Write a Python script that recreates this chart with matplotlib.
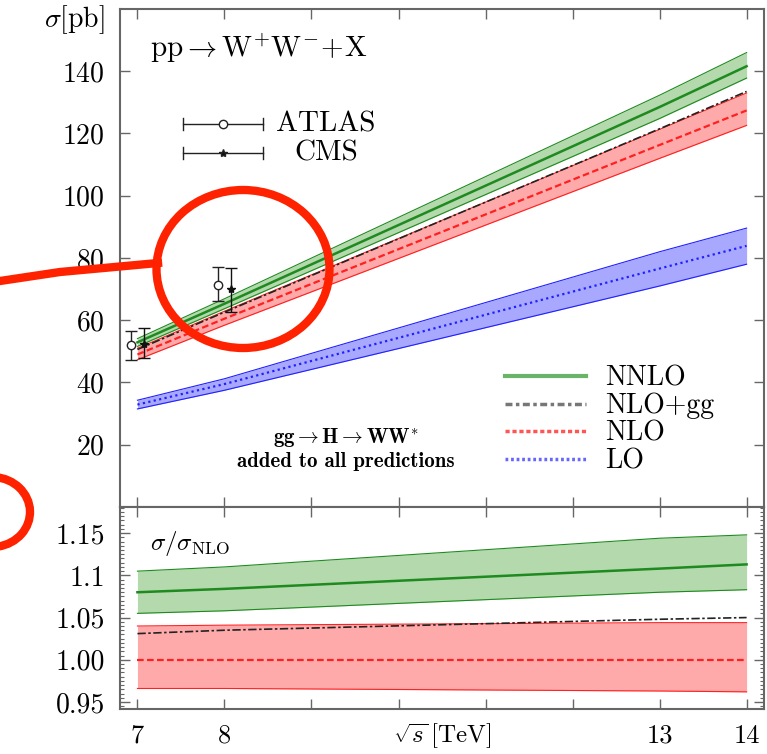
import numpy as np
import matplotlib
matplotlib.use("Agg")
import matplotlib.pyplot as plt
from matplotlib.patches import Ellipse, Arc
from matplotlib.lines import Line2D
from matplotlib.ticker import FixedLocator, FixedFormatter, MultipleLocator

plt.rcParams['font.family'] = 'serif'
plt.rcParams['font.serif'] = ['cmr10', 'DejaVu Serif']
plt.rcParams['mathtext.fontset'] = 'cm'
plt.rcParams['axes.formatter.use_mathtext'] = True

# energies (TeV)
sqrt_s = [7, 8, 13, 14]

# cross sections in pb (gg->H->WW* added)
nnlo = [52.9, 65.3, 128.5, 141.6]
nnlo_lo = [51.6, 63.7, 124.8, 137.8]
nnlo_hi = [54.1, 66.9, 132.3, 146.0]
nlo_gg = [50.6, 62.6, 121.5, 133.5]
nlo = [49.0, 60.5, 116.3, 127.4]
nlo_lo = [47.3, 58.4, 112.0, 122.6]
nlo_hi = [51.0, 62.9, 121.3, 133.0]
lo = [32.9, 39.5, 76.6, 83.9]
lo_lo = [31.5, 37.5, 71.0, 78.0]
lo_hi = [34.3, 41.2, 82.0, 89.6]

# ratios to NLO
r_nnlo = [1.080, 1.084, 1.108, 1.113]
r_nnlo_lo = [1.055, 1.058, 1.080, 1.083]
r_nnlo_hi = [1.105, 1.110, 1.144, 1.148]
r_nlo_gg = [1.031, 1.035, 1.048, 1.050]
r_nlo = [1.0, 1.0, 1.0, 1.0]
r_nlo_lo = [0.966, 0.966, 0.963, 0.962]
r_nlo_hi = [1.040, 1.041, 1.044, 1.044]

# measurements
atlas_x = [6.93, 7.93]
atlas_y = [51.9, 71.4]
atlas_err = [[4.8, 5.1], [4.8, 5.7]]
cms_x = [7.07, 8.08]
cms_y = [52.4, 69.9]
cms_err = [[4.6, 7.3], [5.0, 6.9]]

green, green_f = '#1f8a1f', '#b3d9ad'
red, red_f = '#ff2020', '#ffaaaa'
blue, blue_f = '#2020ff', '#a8a8ff'
frame = '#666666'
fs = 20

fig = plt.figure(figsize=(7.67, 7.54), dpi=100)
ax = fig.add_axes([0.1565, 0.3276, 0.8396, 0.6605])
ax2 = fig.add_axes([0.1565, 0.0597, 0.8396, 0.2679])

# ---- main panel
def band(a, x, lo_, hi_, c, fc):
    a.fill_between(x, lo_, hi_, color=fc, lw=0)
    a.plot(x, lo_, color=c, lw=0.8)
    a.plot(x, hi_, color=c, lw=0.8)

band(ax, sqrt_s, lo_lo, lo_hi, blue, blue_f)
ax.plot(sqrt_s, lo, color=blue, lw=1.6, ls=(0, (1, 1.5)))
band(ax, sqrt_s, nlo_lo, nlo_hi, red, red_f)
ax.plot(sqrt_s, nlo, color=red, lw=1.6, ls=(0, (3, 1.5)))
ax.plot(sqrt_s, nlo_gg, color='#222222', lw=1.2, ls=(0, (5, 1.5, 1.5, 1.5)))
band(ax, sqrt_s, nnlo_lo, nnlo_hi, green, green_f)
ax.plot(sqrt_s, nnlo, color=green, lw=1.8)

ax.errorbar(atlas_x, atlas_y, yerr=atlas_err, fmt='o', ms=6, mfc='white',
            mec='#222222', ecolor='#222222', elinewidth=1, capsize=4, zorder=5)
ax.errorbar(cms_x, cms_y, yerr=cms_err, fmt='*', ms=6, color='#111111',
            elinewidth=1, capsize=4, zorder=5)

# experiment key (horizontal bars)
for yk, mk, lab in [(0.769, 'o', 'ATLAS'), (0.711, '*', 'CMS')]:
    ax.plot([0.098, 0.222], [yk, yk], color='#222222', lw=1, transform=ax.transAxes)
    for xe in (0.098, 0.222):
        ax.plot([xe, xe], [yk - 0.012, yk + 0.012], color='#222222', lw=1,
                transform=ax.transAxes)
    ax.plot([0.16], [yk], marker=mk, ms=6, mfc='white' if mk == 'o' else '#111111',
            mec='#222222', transform=ax.transAxes)
    ax.text(0.32, yk, lab, ha='center', va='center', fontsize=21,
            transform=ax.transAxes)

ax.text(0.047, 0.922, r'$\mathrm{pp}\rightarrow\mathrm{W}^{+}\mathrm{W}^{-}\!+\!\mathrm{X}$',
        fontsize=21, ha='left', va='center', transform=ax.transAxes)
ax.text(0.35, 0.14, r'$\mathbf{gg}\rightarrow\mathbf{H}\rightarrow\mathbf{WW}^{*}$',
        fontsize=15, ha='center', va='center', transform=ax.transAxes)
ax.text(0.35, 0.092, 'added to all predictions', fontsize=15, family='cmb10',
        ha='center', va='center', transform=ax.transAxes)
ax.text(-0.023, 0.978, r'$\sigma[\mathrm{pb}]$', fontsize=fs, ha='right',
        va='center', transform=ax.transAxes)

handles = [Line2D([], [], color='#6ab46a', lw=3),
           Line2D([], [], color='#777777', lw=2.5, ls=(0, (2, 1, 1, 1))),
           Line2D([], [], color='#ff5555', lw=2.5, ls=(0, (1.2, 0.8))),
           Line2D([], [], color='#6666ff', lw=2.5, ls=(0, (0.8, 0.8)))]
ax.legend(handles, ['NNLO', 'NLO+gg', 'NLO', 'LO'], loc='upper left',
          bbox_to_anchor=(0.598, 0.285), frameon=False, fontsize=fs,
          handlelength=2.9, handletextpad=0.7, labelspacing=0.05,
          borderpad=0, borderaxespad=0)

ax.set_xlim(6.8, 14.2)
ax.set_ylim(0, 160)
ax.xaxis.set_major_locator(FixedLocator(range(7, 15)))
ax.set_xticklabels([])
ax.yaxis.set_major_locator(FixedLocator(range(20, 160, 20)))

# ---- ratio panel
band(ax2, sqrt_s, r_nlo_lo, r_nlo_hi, red, red_f)
ax2.plot(sqrt_s, r_nlo, color=red, lw=1.6, ls=(0, (3, 1.5)))
ax2.plot(sqrt_s, r_nlo_gg, color='#222222', lw=1.2, ls=(0, (5, 1.5, 1.5, 1.5)))
band(ax2, sqrt_s, r_nnlo_lo, r_nnlo_hi, green, green_f)
ax2.plot(sqrt_s, r_nnlo, color=green, lw=1.8)

ax2.text(0.047, 0.82, r'$\sigma/\sigma_{\mathrm{NLO}}$', fontsize=18, ha='left',
         va='center', transform=ax2.transAxes)
ax2.text(0.5, -0.135, r'$\sqrt{s}\,[\mathrm{TeV}]$', fontsize=18, ha='center',
         va='center', transform=ax2.transAxes)

ax2.set_xlim(6.8, 14.2)
ax2.set_ylim(0.9417, 1.181)
ax2.xaxis.set_major_locator(FixedLocator(range(7, 15)))
ax2.xaxis.set_major_formatter(FixedFormatter(['7', '8', '', '', '', '', '13', '14']))
ax2.yaxis.set_major_locator(FixedLocator([0.95, 1.0, 1.05, 1.1, 1.15]))
ax2.yaxis.set_major_formatter(FixedFormatter(['0.95', '1.00', '1.05', '1.1', '1.15']))
ax2.yaxis.set_minor_locator(MultipleLocator(0.005))

for a in (ax, ax2):
    for sp in a.spines.values():
        sp.set_color(frame)
        sp.set_linewidth(1.5)
    a.tick_params(which='major', direction='in', top=True, right=True, length=7,
                  width=1, color=frame, labelsize=fs, pad=11)
    a.tick_params(which='minor', direction='in', left=True, right=True, length=3,
                  width=0.8, color=frame)
ax2.tick_params(axis='x', pad=11, labelsize=19)

# hand-drawn red markings over the figure
mark = '#ff2200'
fig.add_artist(Ellipse((243 / 767, 1 - 269 / 754), 173 / 767, 158 / 754,
                       transform=fig.transFigure, fill=False, ec=mark, lw=6, zorder=20))
fig.add_artist(Line2D([0, 60 / 767, 158 / 767],
                      [1 - 281 / 754, 1 - 272 / 754, 1 - 263 / 754],
                      transform=fig.transFigure, color=mark, lw=6, zorder=20))
fig.add_artist(Arc((-8 / 767, 1 - 512 / 754), 76 / 767, 70 / 754, theta1=-80, theta2=85,
                   transform=fig.transFigure, color=mark, lw=6, zorder=20))

fig.savefig('out.png', dpi=100)
